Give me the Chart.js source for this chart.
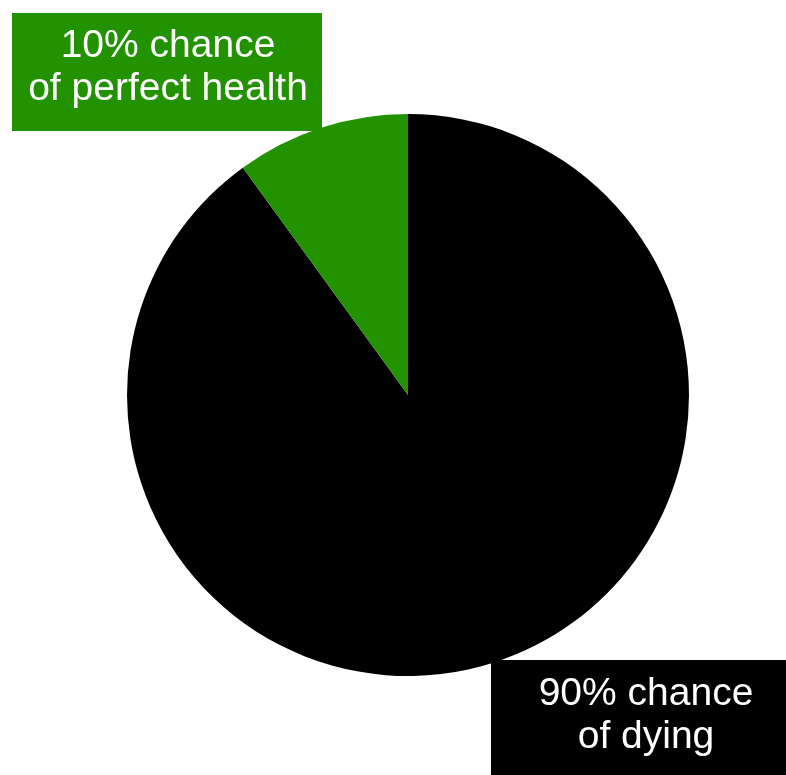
<!DOCTYPE html>
<html>
<head>
<meta charset="utf-8">
<script src="https://cdn.jsdelivr.net/npm/chart.js@4"></script>
<style>
    html, body { margin: 0; padding: 0; background: #ffffff; }
    #wrap { width: 786px; height: 775px; position: relative; }
</style>
</head>
<body>
<div id="wrap"><canvas id="pieChart"></canvas></div>
<script>
// outcomes, listed clockwise from 12 o'clock
var categories = ["90% chance of dying", "10% chance of perfect health"];
var shares = [90, 10];
var sliceColors = ["#000000", "#229200"];
// label box text, split into lines
var deathLines = ["90% chance", "of dying"];
var healthLines = ["10% chance", "of perfect health"];

document.addEventListener("DOMContentLoaded", function () {
    // boxes with the captions, drawn over the pie
    var captionBoxes = {
        id: "captionBoxes",
        afterDraw: function (chart) {
            var c = chart.ctx;
            function box(x, y, w, h, textX, fill, lines, firstBase) {
                c.save();
                c.fillStyle = fill;
                c.fillRect(x, y, w, h);
                c.fillStyle = "#ffffff";
                c.font = "39px 'Liberation Sans', Arial, sans-serif";
                c.textAlign = "center";
                c.textBaseline = "alphabetic";
                lines.forEach(function (t, i) {
                    c.fillText(t, textX, firstBase + i * 43);
                });
                c.restore();
            }
            box(12, 13, 310, 118, 168, sliceColors[1], healthLines, 57);
            // this box runs off the right edge, so its text sits right of centre
            box(491, 660, 295, 115, 646, sliceColors[0], deathLines, 705);
        }
    };

    var ctx = document.getElementById("pieChart").getContext("2d");
    new Chart(ctx, {
        type: "pie",
        data: {
            labels: categories,
            datasets: [{
                data: shares,
                backgroundColor: sliceColors,
                borderWidth: 0,
                hoverOffset: 0
            }]
        },
        options: {
            responsive: true,
            maintainAspectRatio: false,
            animation: false,
            events: [],
            layout: {
                padding: { left: 127, right: 97, top: 114, bottom: 99 }
            },
            plugins: {
                legend: { display: false },
                tooltip: { enabled: false }
            }
        },
        plugins: [captionBoxes]
    });
});
</script>
</body>
</html>
